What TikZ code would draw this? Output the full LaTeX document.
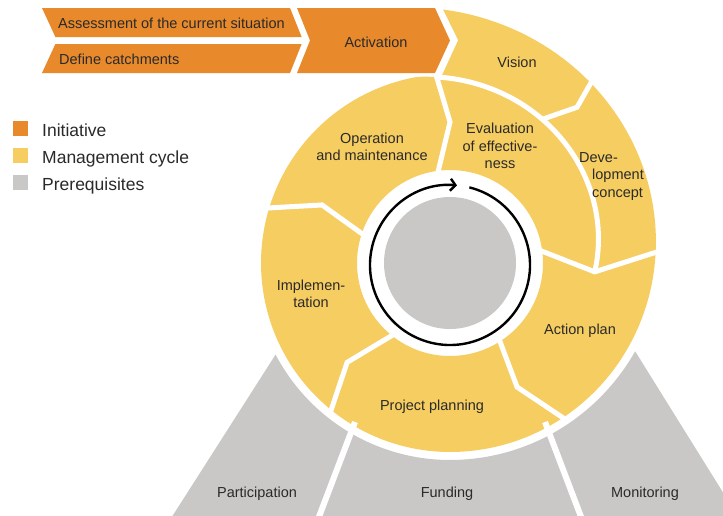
\documentclass[tikz,border=0pt]{standalone}
\usepackage{fontspec}
\setmainfont{Liberation Sans}
\usetikzlibrary{arrows.meta}
\definecolor{initc}{HTML}{E8892B}
\definecolor{mcyc}{HTML}{F6CD60}
\definecolor{prereq}{HTML}{C9C8C6}
\definecolor{txt}{HTML}{2A2A2A}
\begin{document}
\begin{tikzpicture}[x=1pt,y=-1pt,
  lbl/.style={font=\fontsize{14.5}{17.5}\selectfont, text=txt, inner sep=0pt, align=center},
  legtxt/.style={font=\fontsize{17.5}{20}\selectfont, text=txt, inner sep=0pt, anchor=base west},
  legsq/.style={inner sep=0pt, minimum size=15pt, anchor=south west},
  sep/.style={draw=white, line width=5pt, line join=miter},
  gsep/.style={draw=white, line width=6pt}]
\clip (0,0) rectangle (723,515);
\fill[white] (0,0) rectangle (723,515);

% ---------------- management cycle (polar, centred on the hub) -------------
\begin{scope}[shift={(450,263)}, y=1pt]
  % yellow spiral ring
  \fill[mcyc, even odd rule]
    plot[domain=91.56:-90, samples=90] (\x:{189+0.196*((\x+90)/10)^2})
    -- plot[domain=270:92.76, samples=90] (\x:{min(189,145+0.425*(\x+3.5))})
    -- (87.9:223) -- cycle
    (0,0) circle[radius=93];
  % white separators between the stages
  \draw[sep] plot[domain=94:-3.5, samples=60] (\x:{145+0.425*(\x+3.5)});
  \draw[sep] (57.3:170.8) -- (50.8:201) -- (52.3:238);
  \draw[sep] (9.8:86) -- (-3.5:145) -- (3.6:215);
  \draw[sep] (-56.5:86) -- (-61.6:141) -- (-53:200);
  \draw[sep] (-127:86) -- (-136:143) -- (-128:198);
  \draw[sep] (163:86) -- (155.6:140.5) -- (164:198);
  \draw[sep] (99:86) -- (90:141) -- (94.7:196);
  % prerequisites base
  \fill[prereq] (-282,-260) -- (-152.3:197)
    -- plot[domain=-152.3:-90, samples=40] (\x:197)
    -- plot[domain=-90:-25.5, samples=40] (\x:{197+0.196*((\x+90)/10)^2})
    -- (292,-260) -- cycle;
  % hub
  \fill[prereq] (0,0) circle[radius=66];
  \draw[line width=2.4pt, -{Straight Barb[length=5pt,width=12pt]}]
    (0,-2) ++(76:80) arc[start angle=76, end angle=-275, radius=80];
\end{scope}

% dividers of the prerequisites
\draw[gsep] (355,422) -- (317,522);
\draw[gsep] (545,422) -- (583,522);

% ---------------- initiative (orange chevrons) ----------------
\fill[initc] (42,8) -- (290,8) -- (301.6,37) -- (55.4,37) -- cycle;
\fill[initc] (55.4,44) -- (301.6,44) -- (290,73) -- (42,73) -- cycle;
\fill[initc] (297,8) -- (435,8) -- (450,40.5) -- (435,73) -- (297,73) -- (310,40.5) -- cycle;

% ---------------- labels ----------------
\node[lbl, anchor=base west] (assess) at (58,28) {Assessment of the current situation};
\node[lbl, anchor=base west] (define) at (59,64.5) {Define catchments};
\node[lbl, anchor=base] (activation) at (376,47) {Activation};
\node[lbl, anchor=base] (vision) at (517,67.2) {Vision};
\node[lbl] (evaluation) at (500,146) {Evaluation\\of effective-\\ness};
\node[lbl, anchor=west, align=left] (devconcept) at (579,176.5) {Deve-\\\hspace*{13pt}lopment\\\hspace*{13pt}concept};
\node[lbl] (operation) at (372,147) {Operation\\and maintenance};
\node[lbl] (implementation) at (311,294) {Implemen-\\tation};
\node[lbl, anchor=base] (actionplan) at (580,334.2) {Action plan};
\node[lbl, anchor=base] (projplan) at (432,410.2) {Project planning};
\node[lbl, anchor=base] (participation) at (257,497.2) {Participation};
\node[lbl, anchor=base] (funding) at (447,497.2) {Funding};
\node[lbl, anchor=base] (monitoring) at (645,497.2) {Monitoring};

% ---------------- legend ----------------
\node[legsq, fill=initc] (sqinit) at (13,136.5) {};
\node[legtxt] (leginit) at (42,136.5) {Initiative};
\node[legsq, fill=mcyc] (sqmcyc) at (13,163.5) {};
\node[legtxt] (legmcyc) at (42,163.5) {Management cycle};
\node[legsq, fill=prereq] (sqpre) at (13,190.5) {};
\node[legtxt] (legpre) at (42,190.5) {Prerequisites};
\end{tikzpicture}
\end{document}
